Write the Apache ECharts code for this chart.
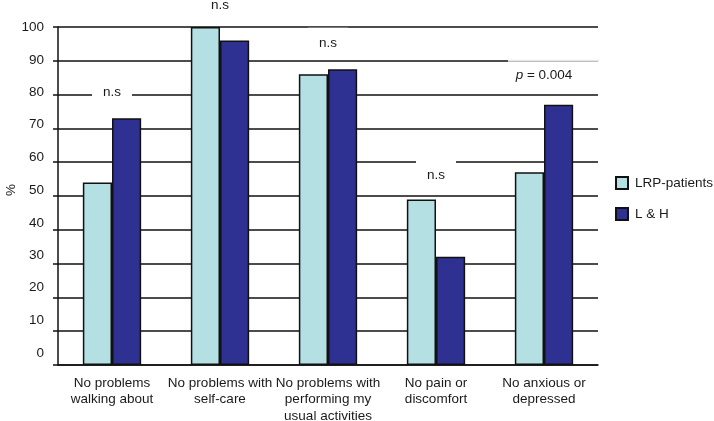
<!DOCTYPE html>
<html><head><meta charset="utf-8">
<script src="https://cdn.jsdelivr.net/npm/echarts@6/dist/echarts.min.js"></script>
<style>html,body{margin:0;padding:0;background:#fff}#c{width:714px;height:421px}</style>
</head><body><div id="c"></div>
<script>
const categories = ["No problems\nwalking about", "No problems with\nself-care", "No problems with\nperforming my\nusual activities", "No pain or\ndiscomfort", "No anxious or\ndepressed"];
const lrpPatients = [54, 100, 86, 49, 57];
const lAndH = [73, 96, 87.5, 32, 77];
const yTicks = [0, 10, 20, 30, 40, 50, 60, 70, 80, 90, 100];
const yAxisTitle = '%';
// significance annotations: [category index, value level, text]
const annotations = [
  [0, 81.4, "n.s"],
  [1, 107, "n.s"],
  [2, 95.9, "n.s"],
  [3, 56.8, "n.s"],
  [4, 85.8, "{i|p} = 0.004"]
];

const FONT = "Liberation Sans, Arial, sans-serif";
const TXT = "#1a1a1a";
const FS = 13.5;
const rich = {};
yTicks.forEach(v => { const off = Math.round((100 - v) * 0.12); rich['s' + v] = {padding: [0, 0, off * 2, 0], fontSize: FS, fontFamily: FONT, color: TXT}; });

const chart = echarts.init(document.getElementById('c'));
chart.setOption({
  animation: false,
  backgroundColor: '#fff',
  textStyle: {fontFamily: FONT, color: TXT},
  grid: {left: 58, right: 116, top: 27, bottom: 56, containLabel: false, outerBoundsMode: 'none'},
  legend: {
    orient: 'vertical', left: 615, top: 176, padding: 0, itemWidth: 12, itemHeight: 12, itemGap: 17, icon: 'rect',
    textStyle: {fontSize: FS, color: TXT, fontFamily: FONT, padding: [0, 0, 0, 2]},
    data: ['LRP-patients', 'L & H']
  },
  xAxis: {
    type: 'category', data: categories,
    axisLine: {lineStyle: {color: '#111', width: 1.5}},
    axisTick: {length: 3, lineStyle: {color: '#111', width: 1.5}},
    axisLabel: {interval: 0, fontSize: FS, lineHeight: 16.5, color: TXT, fontFamily: FONT, margin: 10}
  },
  yAxis: {
    type: 'value', min: 0, max: 100, interval: 10,
    axisLine: {show: true, lineStyle: {color: '#111', width: 1.5}},
    axisTick: {show: true, length: 5, lineStyle: {color: '#111', width: 1.5}},
    axisLabel: {margin: 14, formatter: v => '{s' + v + '|' + v + '}', rich: rich},
    splitLine: {lineStyle: {color: '#111', width: 1.5}}
  },
  series: [
    {name: 'LRP-patients', type: 'bar', data: lrpPatients, barGap: '0%', barCategoryGap: '46%',
     itemStyle: {color: '#b4e0e3', borderColor: '#111', borderWidth: 1.5}, z: 3},
    {name: 'L & H', type: 'bar', data: lAndH,
     itemStyle: {color: '#2e3191', borderColor: '#111', borderWidth: 1.5}, z: 3},
    {name: 'annot', type: 'scatter', symbolSize: 0, clip: false, silent: true, z: 2,
     itemStyle: {opacity: 1},
     data: annotations.map((a, i) => ({value: [a[0], a[1]],
       label: i === 4 ? {formatter: a[2], padding: [0, 4]} : {formatter: a[2]}})),
     label: {show: true, position: 'inside', fontSize: FS, color: TXT, fontFamily: FONT,
       backgroundColor: '#fff', padding: [8, 11, 4, 11],
       rich: {i: {fontStyle: 'italic', fontSize: FS, color: TXT, fontFamily: FONT}}}
    }
  ]
});
// faded segment of the 90 gridline above the p-value annotation, and the y-axis title
const y90 = chart.convertToPixel({yAxisIndex: 0}, 90);
const yMid = chart.convertToPixel({yAxisIndex: 0}, 50);
const xc4 = chart.convertToPixel({xAxisIndex: 0}, 4);
const xc3 = chart.convertToPixel({xAxisIndex: 0}, 3);
const half = (xc4 - xc3) / 2;
chart.setOption({
  graphic: [
    {type: 'line', z: 1, silent: true,
     shape: {x1: xc4 - half + 18, y1: y90, x2: xc4 + half + 1, y2: y90},
     style: {stroke: '#e6e6e6', lineWidth: 2}},
    {type: 'text', x: 11, y: yMid - 6, rotation: Math.PI / 2, silent: true,
     style: {text: yAxisTitle, fontSize: FS, fontFamily: FONT, fill: TXT, align: 'center', verticalAlign: 'middle'}}
  ]
});
</script></body></html>
